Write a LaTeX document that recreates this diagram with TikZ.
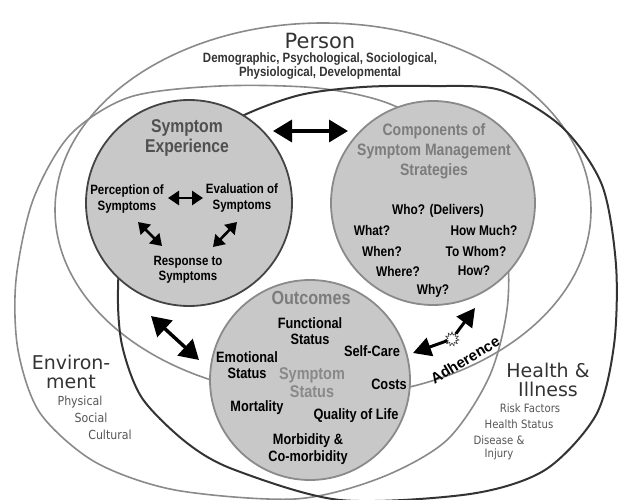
\documentclass[tikz,border=0pt]{standalone}
\usepackage{fontspec}
\setmainfont{Liberation Sans}
\newfontfamily\nbfont[FakeStretch=0.85]{Liberation Sans}
\newfontfamily\djvfont{DejaVu Sans}
\newfontfamily\djvcfont[FakeStretch=0.88]{DejaVu Sans}
\usetikzlibrary{arrows.meta,shapes.geometric}
\definecolor{cfill}{HTML}{C8C8C8}
\definecolor{lgray}{HTML}{8A8A8A}
\definecolor{dgray}{HTML}{333333}
\definecolor{tgray}{HTML}{7C7C7C}
\definecolor{sgray}{HTML}{505050}
\definecolor{egray}{HTML}{555555}
\begin{document}
\begin{tikzpicture}[x=1pt,y=-1pt,
  bigp/.style={draw=lgray,line width=1.6pt},
  bigh/.style={draw=dgray,line width=2pt},
  incirc/.style={circle,fill=cfill,line width=1.8pt,inner sep=0,minimum size=#1},
  btext/.style={font=\nbfont\bfseries\fontsize{14}{16}\selectfont,align=center,inner sep=0,text=black},
  otext/.style={font=\nbfont\bfseries\fontsize{15}{16.5}\selectfont,align=center,inner sep=0,text=black},
  sttext/.style={font=\nbfont\bfseries\fontsize{13.5}{15.5}\selectfont,align=center,inner sep=0,text=black},
  domlabel/.style={font=\djvfont\fontsize{19}{19.5}\selectfont,align=center,inner sep=0,text=dgray},
  dsub/.style={font=\djvcfont\fontsize{12.5}{13}\selectfont,align=center,inner sep=0,text=egray},
  hsub/.style={font=\djvcfont\fontsize{11.5}{13}\selectfont,align=center,inner sep=0,text=egray},
  dblbig/.style={line width=3.5pt,{Triangle[length=19pt,width=22pt]}-{Triangle[length=19pt,width=22pt]}},
  dblsmall/.style={line width=2.6pt,{Triangle[length=11pt,width=14pt]}-{Triangle[length=11pt,width=14pt]}},
  onearr/.style={line width=3pt,-{Triangle[length=18pt,width=19pt]}}
]
\useasboundingbox (0,0) rectangle (624,500);
% Person
\draw[bigp] (323,210) ellipse [x radius=268pt, y radius=187pt];
% Environment
\draw[bigp] plot[smooth cycle] coordinates {(317,88) (220,86) (130,97) (70,135) (33,200) (16,280) (18,350) (40,413) (95,462) (175,490) (295,499) (380,478) (447,440) (490,375) (508,300) (502,220) (460,145) (390,104)};
% Health & Illness
\draw[bigh] plot[smooth cycle] coordinates {(363,87) (430,86) (500,90) (562,127) (602,185) (616,265) (614,345) (596,415) (545,470) (470,494) (340,500) (235,470) (187,443) (142,398) (122,345) (118,290) (125,230) (165,160) (240,117) (300,95)};
% inner circles
\node[incirc=206pt,draw=egray!80!black] (se) at (189,203) {};
\node[incirc=204pt,draw=lgray] (cs) at (433,203) {};
\node[incirc=200pt,draw=lgray] (oc) at (310,380) {};
% domain labels
\node[font=\djvfont\fontsize{21}{22}\selectfont,text=dgray,inner sep=0] (person) at (320,41) {Person};
\node[font=\nbfont\bfseries\fontsize{13.5}{14}\selectfont,text=dgray,align=center,inner sep=0] (persub) at (320,66) {Demographic, Psychological, Sociological,\\Physiological, Developmental};
\node[domlabel] (env) at (71,372) {Environ-\\ment};
\node[dsub] (phys) at (80,402) {Physical};
\node[dsub] (soc) at (91,418) {Social};
\node[dsub] (cult) at (110,435) {Cultural};
\node[domlabel] (hi) at (548,380) {Health \&\\Illness};
\node[hsub] (risk) at (530,408) {Risk Factors};
\node[hsub] (hstat) at (519,424) {Health Status};
\node[hsub] (dis) at (499,448) {Disease \&\\Injury};
% Symptom experience
\node[font=\nbfont\bfseries\fontsize{18.5}{20}\selectfont,text=sgray,align=center,inner sep=0] (setitle) at (187,138) {Symptom\\Experience};
\node[sttext] (perc) at (127,199) {Perception of\\Symptoms};
\node[sttext] (eval) at (242,198) {Evaluation of\\Symptoms};
\node[sttext] (resp) at (188,270) {Response to\\Symptoms};
\coordinate (pe1) at (168,198);
\coordinate (pe2) at (203,198);
\coordinate (pr1) at (138,222);
\coordinate (pr2) at (162,246);
\coordinate (er1) at (237,222);
\coordinate (er2) at (213,247);
\draw[dblsmall] (pe1) -- (pe2);
\draw[dblsmall] (pr1) -- (pr2);
\draw[dblsmall] (er1) -- (er2);
% Components
\node[font=\nbfont\bfseries\fontsize{16.5}{20}\selectfont,text=tgray,align=center,inner sep=0] (cstitle) at (434,151) {Components of\\Symptom Management\\Strategies};
\node[btext] (who) at (438,211) {Who? (Delivers)};
\node[btext] (what) at (372,230) {What?};
\node[btext] (howmuch) at (484,230) {How Much?};
\node[btext] (when) at (382,251) {When?};
\node[btext] (towhom) at (476,251) {To Whom?};
\node[btext] (where) at (398,271) {Where?};
\node[btext] (how) at (474,271) {How?};
\node[btext] (why) at (433,291) {Why?};
% Outcomes
\node[font=\nbfont\bfseries\fontsize{19}{20}\selectfont,text=tgray,inner sep=0] (octitle) at (311,298) {Outcomes};
\node[otext] (func) at (310,331) {Functional\\Status};
\node[otext] (self) at (372,351) {Self-Care};
\node[otext] (emo) at (247,365) {Emotional\\Status};
\node[font=\nbfont\bfseries\fontsize{17}{18}\selectfont,text=tgray!90,align=center,inner sep=0] (sstat) at (312,383) {Symptom\\Status};
\node[otext] (costs) at (389,384) {Costs};
\node[otext] (mort) at (257,408) {Mortality};
\node[otext] (qol) at (356,416) {Quality of Life};
\node[otext] (morb) at (308,449) {Morbidity \&\\Co-morbidity};
% big arrows
\coordinate (t1) at (273,131);
\coordinate (t2) at (348,131);
\draw[dblbig] (t1) -- (t2);
\coordinate (l1) at (151,316);
\coordinate (l2) at (199,360);
\draw[dblbig] (l1) -- (l2);
% adherence
\node[star,star points=11,star point ratio=1.7,draw=dgray,fill=white,line width=0.6pt,minimum size=14pt,inner sep=0] (burst) at (452,339) {};
\coordinate (a1) at (413,353);
\coordinate (a2) at (475,308);
\draw[onearr] (burst) -- (a1);
\draw[onearr] (burst) -- (a2);
\node[font=\bfseries\fontsize{15}{16}\selectfont,rotate=31,inner sep=0] (adh) at (465,360) {Adherence};
\end{tikzpicture}
\end{document}
